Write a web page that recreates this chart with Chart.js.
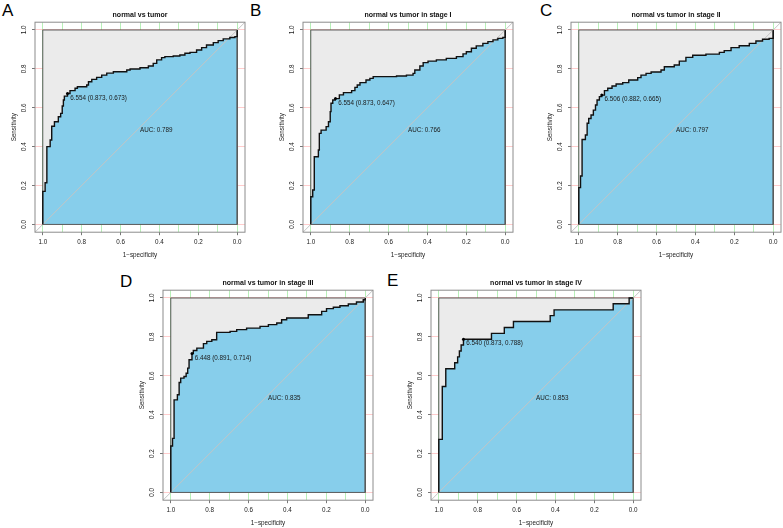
<!DOCTYPE html>
<html>
<head>
<meta charset="utf-8">
<script src="https://cdn.jsdelivr.net/npm/chart.js@4.4.0/dist/chart.umd.min.js"></script>
<style>
html, body { margin:0; padding:0; background:#fff; width:783px; height:528px; overflow:hidden; position:relative; }
.panel { position:absolute; width:250px; height:262px; }
.panel canvas { display:block; }
.letter { position:absolute; font-family:'Liberation Sans', Arial, sans-serif; font-size:17px; line-height:17px; color:#000; }
</style>
</head>
<body>
<div class="letter" id="LA" style="left:2px;top:2px"></div>
<div class="letter" id="LB" style="left:250px;top:2px"></div>
<div class="letter" id="LC" style="left:540px;top:2px"></div>
<div class="letter" id="LD" style="left:120px;top:273px"></div>
<div class="letter" id="LE" style="left:387px;top:272px"></div>
<div class="panel" style="left:0px;top:0px"><canvas id="cA" width="250" height="262"></canvas></div>
<div class="panel" style="left:268px;top:0px"><canvas id="cB" width="250" height="262"></canvas></div>
<div class="panel" style="left:536px;top:0px"><canvas id="cC" width="250" height="262"></canvas></div>
<div class="panel" style="left:128px;top:268px"><canvas id="cD" width="250" height="262"></canvas></div>
<div class="panel" style="left:396px;top:268px"><canvas id="cE" width="250" height="262"></canvas></div>
<script>
// ---------------- data ----------------
const panelLetters = ['A', 'B', 'C', 'D', 'E'];
const panelTitles = ['normal vs tumor', 'normal vs tumor in stage I', 'normal vs tumor in stage II', 'normal vs tumor in stage III', 'normal vs tumor in stage IV'];
const aucValues = ['0.789', '0.766', '0.797', '0.835', '0.853'];
const thresholdLabels = ['6.554 (0.873, 0.673)', '6.554 (0.873, 0.647)', '6.506 (0.882, 0.665)', '6.448 (0.891, 0.714)', '6.540 (0.873, 0.788)'];
const thresholdSpec = [0.873, 0.873, 0.882, 0.891, 0.873];
const thresholdSens = [0.673, 0.647, 0.665, 0.714, 0.788];
const xTickValues = [0, 0.1, 0.2, 0.3, 0.4, 0.5, 0.6, 0.7, 0.8, 0.9, 1.0];
const yTickValues = [0, 0.2, 0.4, 0.6, 0.8, 1.0];
const xAxisTitle = '1\u2212specificity';
const yAxisTitle = 'Sensitivity';

const specA = [1,1,0.988,0.979,0.962,0.954,0.94,0.92,0.908,0.90,0.894,0.889,0.873,0.86,0.834,0.822,0.774,0.765,0.748,0.723,0.697,0.671,0.637,0.568,0.551,0.5,0.457,0.432,0.414,0.389,0.372,0.329,0.295,0.269,0.243,0.209,0.183,0.158,0.123,0.098,0.072,0.038,0.012,0,0];
const sensA = [0,0.17,0.214,0.40,0.434,0.505,0.528,0.554,0.571,0.609,0.64,0.66,0.673,0.688,0.70,0.708,0.717,0.734,0.746,0.756,0.768,0.778,0.785,0.794,0.799,0.806,0.815,0.828,0.846,0.858,0.863,0.866,0.871,0.88,0.885,0.897,0.909,0.923,0.935,0.945,0.954,0.961,0.966,0.971,1];

const specB = [1,1,0.99,0.982,0.961,0.956,0.947,0.921,0.909,0.90,0.896,0.887,0.874,0.853,0.832,0.79,0.773,0.761,0.747,0.716,0.696,0.679,0.559,0.508,0.474,0.465,0.439,0.422,0.397,0.354,0.303,0.251,0.217,0.2,0.174,0.149,0.115,0.089,0.063,0.038,0.012,0,0];
const sensB = [0,0.142,0.177,0.348,0.383,0.468,0.485,0.503,0.528,0.58,0.623,0.64,0.647,0.666,0.678,0.688,0.705,0.717,0.729,0.743,0.751,0.76,0.763,0.768,0.777,0.794,0.815,0.832,0.84,0.846,0.854,0.863,0.877,0.888,0.906,0.918,0.931,0.94,0.949,0.957,0.962,0.969,1];

const specC = [1,1,0.991,0.983,0.966,0.957,0.949,0.937,0.925,0.914,0.906,0.894,0.882,0.868,0.851,0.829,0.808,0.774,0.743,0.697,0.68,0.654,0.628,0.577,0.56,0.509,0.483,0.449,0.414,0.346,0.277,0.252,0.217,0.175,0.123,0.089,0.055,0.021,0,0];
const sensC = [0,0.189,0.249,0.437,0.46,0.52,0.545,0.563,0.588,0.614,0.64,0.657,0.665,0.688,0.70,0.712,0.722,0.729,0.743,0.755,0.768,0.777,0.784,0.794,0.811,0.82,0.84,0.859,0.87,0.876,0.885,0.894,0.909,0.919,0.931,0.943,0.952,0.957,0.961,1];

const specD = [1,1,0.991,0.983,0.966,0.957,0.949,0.932,0.921,0.913,0.906,0.891,0.884,0.866,0.832,0.815,0.789,0.764,0.695,0.661,0.61,0.541,0.498,0.455,0.43,0.404,0.293,0.224,0.199,0.164,0.13,0.087,0.045,0.01,0,0];
const sensD = [0,0.239,0.278,0.476,0.502,0.565,0.588,0.596,0.613,0.639,0.682,0.714,0.730,0.742,0.765,0.777,0.785,0.823,0.828,0.837,0.845,0.854,0.863,0.871,0.888,0.897,0.914,0.931,0.945,0.952,0.960,0.969,0.979,0.991,0.997,1];

const specE = [1,1,0.982,0.964,0.918,0.903,0.894,0.885,0.873,0.729,0.663,0.616,0.427,0.407,0.103,0.021,0];
const sensE = [0,0.273,0.545,0.636,0.667,0.697,0.727,0.758,0.788,0.818,0.848,0.879,0.909,0.939,0.970,1.0,1.0];

const allSpec = [specA, specB, specC, specD, specE];
const allSens = [sensA, sensB, sensC, sensD, sensE];
const canvasIds = ['cA', 'cB', 'cC', 'cD', 'cE'];
const letterIds = ['LA', 'LB', 'LC', 'LD', 'LE'];

// ---------------- drawing ----------------
const FONT = "'Liberation Sans', Arial, Helvetica, sans-serif";
Chart.defaults.font.family = FONT;
Chart.defaults.color = '#1a1a1a';

const rocText = {
  id: 'rocText',
  afterLayout(chart) {
    const t = chart.titleBlock;
    const a = chart.chartArea;
    if (t && a) { t.left = a.left; t.right = a.right; t.width = a.right - a.left; }
  },
  afterDatasetsDraw(chart, args, o) {
    const {ctx, chartArea: a, scales: {x, y}} = chart;
    ctx.save();
    ctx.strokeStyle = '#8c8c8c';
    ctx.lineWidth = 1;
    ctx.strokeRect(a.left, a.top, a.width, a.height);
    ctx.fillStyle = '#1a1a1a';
    ctx.font = '6.3px ' + FONT;
    ctx.textAlign = 'left';
    ctx.textBaseline = 'middle';
    ctx.fillText(o.thrLabel, x.getPixelForValue(o.thrX) + 2.7, y.getPixelForValue(o.thrY) + 4.2);
    ctx.fillText('AUC: ' + o.auc, x.getPixelForValue(0.5), y.getPixelForValue(0.5) + 2.9);
    ctx.restore();
  }
};

function makePanel(i) {
  document.getElementById(letterIds[i]).textContent = panelLetters[i];
  const curve = allSpec[i].map((v, k) => ({x: v, y: allSens[i][k]}));
  const square = [{x: 1, y: 1}, {x: 0, y: 1}];
  const outline = [{x: 1, y: 0}, {x: 1, y: 1}, {x: 0, y: 1}, {x: 0, y: 0}, {x: 1, y: 0}];
  const diag = [{x: 1.04, y: -0.04}, {x: -0.04, y: 1.04}];
  const thr = [{x: thresholdSpec[i], y: thresholdSens[i]}];
  new Chart(document.getElementById(canvasIds[i]), {
    type: 'line',
    data: {
      datasets: [
        {data: square, borderWidth: 0, borderColor: 'rgba(0,0,0,0)', pointRadius: 0, fill: 'origin', backgroundColor: '#ebebeb', order: 6},
        {data: curve, stepped: true, borderWidth: 0, borderColor: 'rgba(0,0,0,0)', pointRadius: 0, fill: 'origin', backgroundColor: '#87ceeb', order: 5},
        {data: outline, borderWidth: 1, borderColor: '#5a5a5a', pointRadius: 0, fill: false, order: 4},
        {data: diag, borderWidth: 1, borderColor: '#c4c4c4', pointRadius: 0, fill: false, order: 3},
        {data: curve, stepped: true, borderWidth: 1.4, borderColor: '#111', pointRadius: 0, fill: false, order: 2},
        {data: thr, showLine: false, pointRadius: 1.5, pointBackgroundColor: '#000', pointBorderWidth: 0, order: 1}
      ]
    },
    options: {
      responsive: false,
      animation: false,
      events: [],
      layout: {padding: {left: 8, right: 5, top: 0, bottom: 2.5}},
      plugins: {
        legend: {display: false},
        tooltip: {enabled: false},
        title: {display: true, text: panelTitles[i], color: '#111', font: {size: 7, weight: 'bold', family: FONT}, padding: {top: 10.5, bottom: 3.3}},
        rocText: {thrLabel: thresholdLabels[i], thrX: thresholdSpec[i], thrY: thresholdSens[i], auc: aucValues[i]}
      },
      scales: {
        x: {
          type: 'linear', reverse: true, min: -0.04, max: 1.04,
          afterBuildTicks: s => { s.ticks = xTickValues.map(v => ({value: v})); },
          afterFit: s => { s.height = 27.3; },
          ticks: {
            font: {size: 6.3}, color: '#1a1a1a', padding: 3.2, maxRotation: 0, minRotation: 0, autoSkip: false,
            callback: v => (Math.round(v * 10) % 2 === 0 ? v.toFixed(1) : '')
          },
          grid: {
            color: 'rgba(0,200,0,0.28)', lineWidth: 1, tickLength: 3,
            tickColor: c => (c.tick && Math.round(c.tick.value * 10) % 2 === 0 ? '#777' : 'rgba(0,0,0,0)')
          },
          border: {display: false},
          title: {display: true, text: xAxisTitle, font: {size: 6.3}, color: '#1a1a1a', padding: {top: 0, bottom: 0}}
        },
        y: {
          type: 'linear', min: -0.04, max: 1.04,
          afterBuildTicks: s => { s.ticks = yTickValues.map(v => ({value: v})); },
          afterFit: s => { s.width = 27; },
          ticks: {
            font: {size: 6.3}, color: '#1a1a1a', padding: 3.6, minRotation: 90, maxRotation: 90, crossAlign: 'center', autoSkip: false,
            callback: v => v.toFixed(1)
          },
          grid: {color: 'rgba(255,0,0,0.2)', lineWidth: 1, tickLength: 3, tickColor: '#777'},
          border: {display: false},
          title: {display: true, text: yAxisTitle, font: {size: 6.3}, color: '#1a1a1a', padding: {top: 2.7, bottom: 0}}
        }
      }
    },
    plugins: [rocText]
  });
}

for (let i = 0; i < 5; i++) makePanel(i);
</script>
</body>
</html>
